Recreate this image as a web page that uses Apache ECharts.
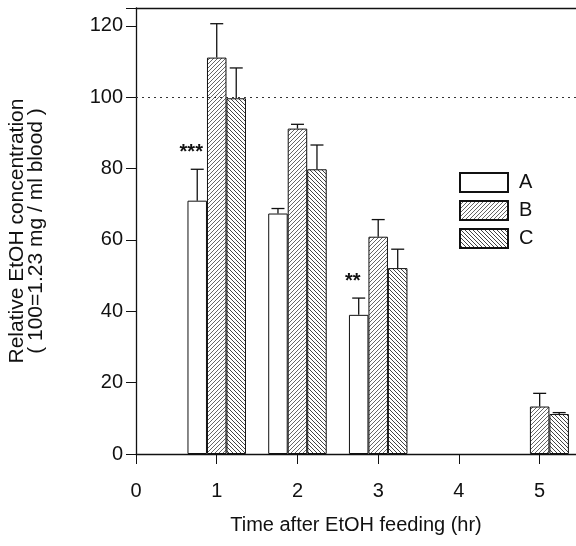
<!DOCTYPE html>
<html lang="en">
<head>
    <meta charset="UTF-8">
    <title>Relative EtOH concentration</title>
    <script src="https://cdn.jsdelivr.net/npm/echarts@6.0.0/dist/echarts.min.js"></script>
    <style>
        html, body { margin: 0; padding: 0; background: #fff; }
        #chart { width: 576px; height: 546px; }
    </style>
</head>
<body>
    <div id="chart"></div>
    <script>
        // Data
        const hours = [1, 2, 3, 5];
        const hoursA = [1, 2, 3];
        const valuesA = [71.0, 67.4, 39.0];
        const errorsA = [79.8, 68.8, 43.7];
        const valuesB = [111.1, 91.2, 60.9, 13.3];
        const errorsB = [120.6, 92.4, 65.7, 17.0];
        const valuesC = [99.7, 79.8, 52.1, 11.2];
        const errorsC = [108.2, 86.6, 57.4, 11.6];
        const marksA = ['***', '', '**'];
        const xTicks = [0, 1, 2, 3, 4, 5];
        const yTicks = [0, 20, 40, 60, 80, 100, 120];

        const barW = 19.5;
        const font = 'Liberation Sans, Arial, sans-serif';

        function hatch(dir, color) {
            const c = document.createElement('canvas');
            const s = 4;
            c.width = s; c.height = s;
            const ctx = c.getContext('2d');
            ctx.fillStyle = '#fff';
            ctx.fillRect(0, 0, s, s);
            ctx.strokeStyle = color;
            ctx.lineWidth = 1;
            ctx.beginPath();
            if (dir > 0) {
                ctx.moveTo(0, s); ctx.lineTo(s, 0);
                ctx.moveTo(-1, 1); ctx.lineTo(1, -1);
                ctx.moveTo(s - 1, s + 1); ctx.lineTo(s + 1, s - 1);
            } else {
                ctx.moveTo(0, 0); ctx.lineTo(s, s);
                ctx.moveTo(s - 1, -1); ctx.lineTo(s + 1, 1);
                ctx.moveTo(-1, s - 1); ctx.lineTo(1, s + 1);
            }
            ctx.stroke();
            return { image: c, repeat: 'repeat' };
        }

        const patB = hatch(1, '#666');
        const patC = hatch(-1, '#444');

        function pairs(xs, ys) { return xs.map((x, i) => [x, ys[i]]); }

        // error bar data: [x, value, errTop, slot, mark]
        const errData = [];
        hoursA.forEach((x, i) => errData.push([x, valuesA[i], errorsA[i], -1, marksA[i]]));
        hours.forEach((x, i) => errData.push([x, valuesB[i], errorsB[i], 0, '']));
        hours.forEach((x, i) => errData.push([x, valuesC[i], errorsC[i], 1, '']));

        const chart = echarts.init(document.getElementById('chart'));
        chart.setOption({
            animation: false,
            grid: { left: 136, right: 0, top: 8, bottom: 92, outerBoundsMode: 'none' },
            legend: {
                data: ['A', 'B', 'C'],
                orient: 'vertical',
                left: 459,
                top: 172,
                padding: 0,
                itemWidth: 48,
                itemHeight: 19,
                itemGap: 7,
                icon: 'rect',
                textStyle: { fontFamily: font, fontSize: 20, color: '#111', padding: [0, 0, 0, 6] }
            },
            xAxis: [{
                type: 'value',
                min: 0,
                max: 5.45,
                interval: 1,
                name: 'Time after EtOH feeding (hr)',
                nameLocation: 'middle',
                nameGap: 61,
                nameTextStyle: { fontFamily: font, fontSize: 20, color: '#111' },
                axisLine: { show: true, lineStyle: { color: '#111', width: 1.3 } },
                axisTick: { show: true, length: 10, lineStyle: { color: '#111' } },
                axisLabel: {
                    fontFamily: font, fontSize: 20, color: '#111', margin: 27,
                    formatter: v => (xTicks.indexOf(v) >= 0 ? String(v) : '')
                },
                splitLine: { show: false }
            }, {
                type: 'value',
                position: 'top',
                min: 0,
                max: 5.45,
                axisLine: { show: true, lineStyle: { color: '#111', width: 1.3 } },
                axisTick: { show: false },
                axisLabel: { show: false },
                splitLine: { show: false }
            }],
            yAxis: {
                type: 'value',
                min: 0,
                max: 125,
                interval: 20,
                name: 'Relative EtOH concentration\n( 100=1.23 mg / ml blood )',
                nameLocation: 'middle',
                nameGap: 90,
                nameRotate: 90,
                nameTextStyle: { fontFamily: font, fontSize: 21, color: '#111', lineHeight: 19 },
                axisLine: { show: true, lineStyle: { color: '#111', width: 1.3 } },
                axisTick: { show: true, length: 10, lineStyle: { color: '#111' } },
                axisLabel: {
                    fontFamily: font, fontSize: 20, color: '#111', margin: 13,
                    formatter: v => (yTicks.indexOf(v) >= 0 ? String(v) : '')
                },
                splitLine: { show: false }
            },
            series: [
                {
                    name: 'A', type: 'bar', barWidth: barW, barGap: '0%',
                    data: pairs(hoursA, valuesA),
                    itemStyle: { color: '#fff', borderColor: '#111', borderWidth: 1 }
                },
                {
                    name: 'B', type: 'bar', barWidth: barW, barGap: '0%',
                    data: pairs(hours, valuesB),
                    itemStyle: { color: patB, borderColor: '#111', borderWidth: 1 },
                    markLine: {
                        silent: true,
                        symbol: 'none',
                        label: { show: false },
                        lineStyle: { type: [2, 4], color: '#333', width: 1 },
                        data: [{ yAxis: 100 }]
                    }
                },
                {
                    name: 'C', type: 'bar', barWidth: barW, barGap: '0%',
                    data: pairs(hours, valuesC),
                    itemStyle: { color: patC, borderColor: '#111', borderWidth: 1 }
                },
                {
                    type: 'custom',
                    data: errData,
                    z: 5,
                    renderItem: function (params, api) {
                        const base = api.coord([api.value(0), api.value(1)]);
                        const top = api.coord([api.value(0), api.value(2)]);
                        const cx = base[0] + api.value(3) * barW;
                        const cap = 6.5;
                        const mark = errData[params.dataIndex][4];
                        const children = [
                            { type: 'line', shape: { x1: cx, y1: base[1], x2: cx, y2: top[1] }, style: { stroke: '#111', lineWidth: 1.3 } },
                            { type: 'line', shape: { x1: cx - cap, y1: top[1], x2: cx + cap, y2: top[1] }, style: { stroke: '#111', lineWidth: 1.3 } }
                        ];
                        if (mark) {
                            children.push({
                                type: 'text',
                                style: {
                                    text: mark, x: cx - 6, y: top[1] - 7,
                                    align: 'center', verticalAlign: 'bottom',
                                    font: 'bold 20px ' + font, fill: '#111'
                                }
                            });
                        }
                        return { type: 'group', children: children };
                    }
                }
            ]
        });
    </script>
</body>
</html>
